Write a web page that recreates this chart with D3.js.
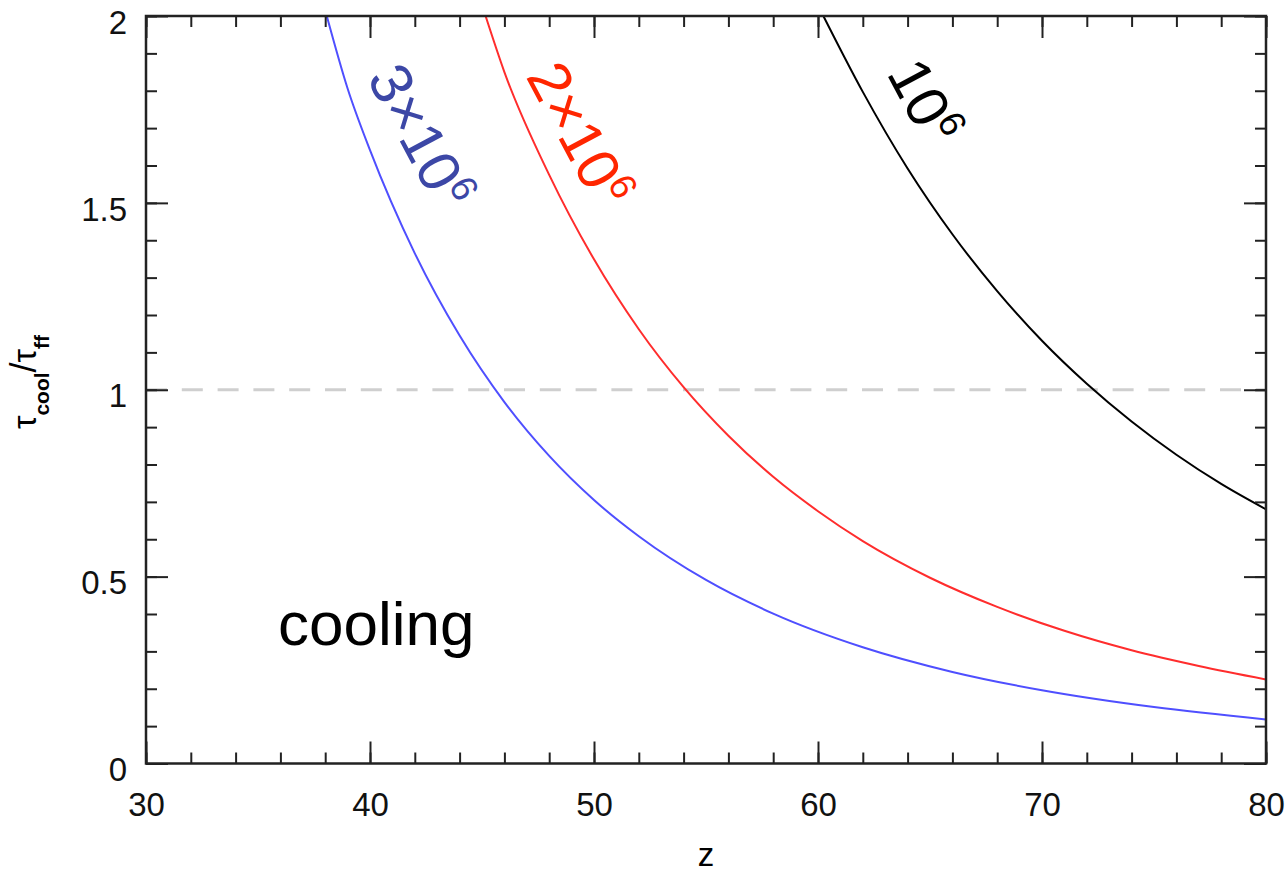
<!DOCTYPE html>
<meta charset="utf-8">
<style>
  body { margin: 0; background: #fff; }
  svg text { font-family: "Liberation Sans", Arial, Helvetica, sans-serif; }
  .axis .domain { display: none; }
  .axis line { stroke: #222; stroke-width: 2px; }
  .axis text { font-size: 33px; fill: #111; }
</style>
<body>
<div id="chart"></div>
<script src="https://d3js.org/d3.v7.min.js"></script>
<script>
  // tick values
  const xTicks = [30, 40, 50, 60, 70, 80];
  const yTicks = [0, 0.5, 1, 1.5, 2];

  // curves (z, t_cool/t_ff)
  const zBlue = [38.07, 39, 40, 42, 44, 46, 48, 50, 52, 55, 58, 62, 66, 70, 75, 80];
  const vBlue = [2.0, 1.806, 1.641, 1.365, 1.145, 0.967, 0.823, 0.705, 0.608, 0.491, 0.401, 0.311, 0.245, 0.196, 0.151, 0.118];

  const zRed = [45.16, 46, 48, 50, 52, 54, 56, 58, 60, 62, 65, 68, 71, 74, 77, 80];
  const vRed = [2.0, 1.850, 1.575, 1.349, 1.162, 1.007, 0.877, 0.767, 0.675, 0.595, 0.497, 0.419, 0.355, 0.303, 0.261, 0.225];

  const zBlack = [60.24, 62, 64, 66, 68, 70, 72, 74, 76, 78, 80];
  const vBlack = [2.0, 1.797, 1.592, 1.416, 1.264, 1.131, 1.016, 0.915, 0.826, 0.748, 0.68];

  const seriesNames = ["3×10", "2×10", "10"];
  const seriesColors = ["#4f4fff", "#ff2d2d", "#000000"];
  const labelColors = ["#3c47a6", "#ff2600", "#000000"];

  const width = 1287, height = 876;
  const mLeft = 146, mRight = 1266, mTop = 16, mBottom = 763.5;

  const svg = d3.select("#chart").append("svg")
    .attr("width", width)
    .attr("height", height);

  const x = d3.scaleLinear().domain([30, 80]).range([mLeft, mRight]);
  const y = d3.scaleLinear().domain([0, 2]).range([mBottom, mTop]);

  svg.append("clipPath").attr("id", "plotclip")
    .append("rect")
    .attr("x", mLeft).attr("y", mTop)
    .attr("width", mRight - mLeft).attr("height", mBottom - mTop);

  // dashed line at 1
  svg.append("line")
    .attr("x1", x(30)).attr("x2", x(80))
    .attr("y1", y(1)).attr("y2", y(1))
    .attr("stroke", "#cfcfcf")
    .attr("stroke-width", 3)
    .attr("stroke-dasharray", "21,14.8");

  const line = d3.line()
    .x(d => x(d[0]))
    .y(d => y(d[1]))
    .curve(d3.curveMonotoneX);

  const curves = [
    d3.zip(zBlue, vBlue),
    d3.zip(zRed, vRed),
    d3.zip(zBlack, vBlack)
  ];

  svg.append("g").attr("clip-path", "url(#plotclip)")
    .selectAll("path")
    .data(curves)
    .join("path")
    .attr("d", line)
    .attr("fill", "none")
    .attr("stroke", (d, i) => seriesColors[i])
    .attr("stroke-width", 2);

  // ticks: major + minor on all four sides, pointing inwards
  const minorX = d3.range(30, 80.01, 2);
  const minorY = d3.range(0, 2.001, 0.1);

  svg.append("g").attr("class", "axis")
    .attr("transform", `translate(0,${mBottom})`)
    .call(d3.axisBottom(x).tickValues(xTicks).tickSize(-22).tickPadding(29).tickFormat(d => d));
  svg.append("g").attr("class", "axis")
    .attr("transform", `translate(0,${mBottom})`)
    .call(d3.axisBottom(x).tickValues(minorX).tickSize(-11).tickFormat(""));
  svg.append("g").attr("class", "axis")
    .attr("transform", `translate(0,${mTop})`)
    .call(d3.axisBottom(x).tickValues(xTicks).tickSize(22).tickFormat(""));
  svg.append("g").attr("class", "axis")
    .attr("transform", `translate(0,${mTop})`)
    .call(d3.axisBottom(x).tickValues(minorX).tickSize(11).tickFormat(""));

  const yAxis = svg.append("g").attr("class", "axis")
    .attr("transform", `translate(${mLeft},0)`)
    .call(d3.axisLeft(y).tickValues(yTicks).tickSize(-22).tickPadding(19).tickFormat(d => d));
  yAxis.selectAll("text").attr("dy", "0.52em");
  svg.append("g").attr("class", "axis")
    .attr("transform", `translate(${mLeft},0)`)
    .call(d3.axisLeft(y).tickValues(minorY).tickSize(-11).tickFormat(""));
  svg.append("g").attr("class", "axis")
    .attr("transform", `translate(${mRight},0)`)
    .call(d3.axisLeft(y).tickValues(yTicks).tickSize(22).tickFormat(""));
  svg.append("g").attr("class", "axis")
    .attr("transform", `translate(${mRight},0)`)
    .call(d3.axisLeft(y).tickValues(minorY).tickSize(11).tickFormat(""));

  // frame
  svg.append("rect")
    .attr("x", mLeft).attr("y", mTop)
    .attr("width", mRight - mLeft).attr("height", mBottom - mTop)
    .attr("fill", "none")
    .attr("stroke", "#222")
    .attr("stroke-width", 2.5);

  // curve labels (rotated along the curves)
  const labelPos = [[421, 136], [580, 134], [925, 101]];
  seriesNames.forEach((name, i) => {
    const t = svg.append("text")
      .attr("transform", `translate(${labelPos[i][0]},${labelPos[i][1]}) rotate(62)`)
      .attr("text-anchor", "middle")
      .attr("dy", "0.36em")
      .attr("font-size", 59)
      .attr("fill", labelColors[i]);
    t.append("tspan").text(name);
    t.append("tspan").attr("font-size", 37).attr("dy", -22).text("6");
  });

  svg.append("text")
    .attr("x", 278).attr("y", 645)
    .attr("font-size", 62)
    .attr("fill", "#000")
    .text("cooling");

  // axis titles
  svg.append("text")
    .attr("x", (mLeft + mRight) / 2).attr("y", 866)
    .attr("text-anchor", "middle")
    .attr("font-size", 33)
    .text("z");

  const yl = svg.append("text")
    .attr("transform", "translate(36,382) rotate(-90)")
    .attr("text-anchor", "middle")
    .attr("font-size", 34)
    .attr("fill", "#000");
  yl.append("tspan").text("τ");
  yl.append("tspan").attr("font-size", 21).attr("font-weight", "bold").attr("dy", 13).text("cool");
  yl.append("tspan").attr("font-size", 36).attr("dy", -13).text("/");
  yl.append("tspan").text("τ");
  yl.append("tspan").attr("font-size", 21).attr("font-weight", "bold").attr("dy", 13).text("ff");
</script>
</body>
